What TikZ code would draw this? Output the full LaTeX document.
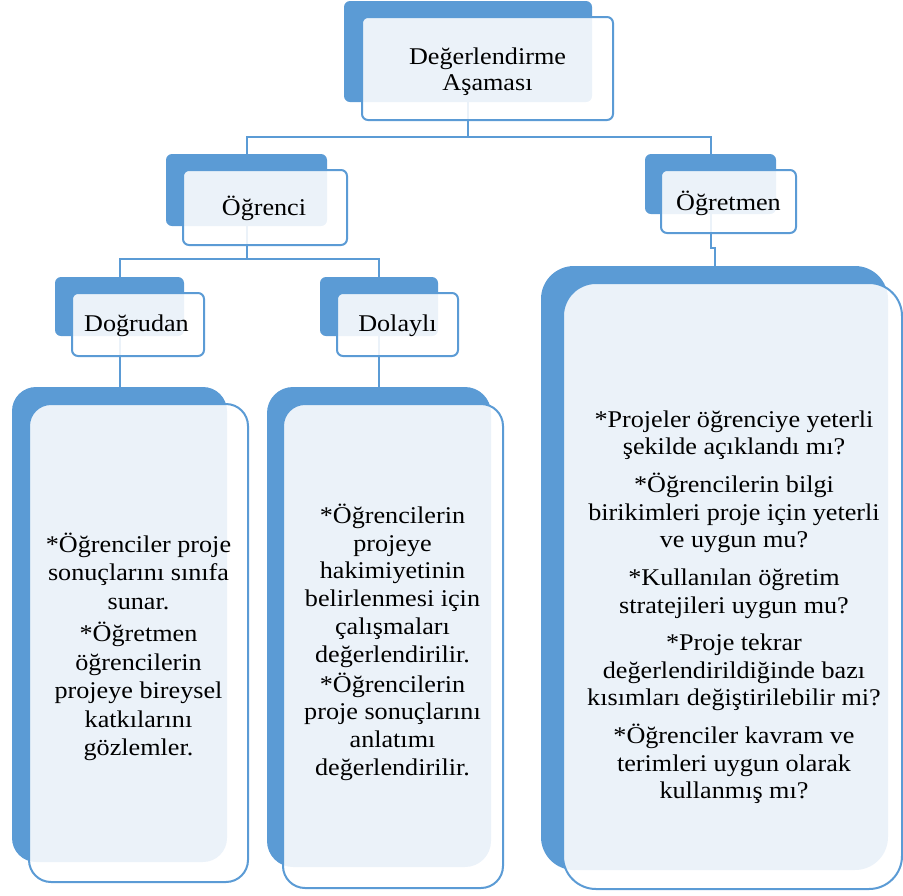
\documentclass[tikz,border=0pt]{standalone}
\usepackage{fontspec}
\setmainfont{Liberation Serif}[FakeStretch=1.09]
\definecolor{sablue}{RGB}{91,155,213}
\begin{document}
\begin{tikzpicture}[x=1pt,y=-1pt,
  back/.style={fill=sablue, draw=none, rounded corners=#1, inner sep=0pt, outer sep=0pt},
  back/.default=6pt,
  front/.style={draw=sablue, line width=2pt, fill=white, fill opacity=0.88, rounded corners=#1, inner sep=0pt, outer sep=0pt},
  front/.default=6pt,
  conn/.style={draw=sablue, line width=2pt},
  lbl/.style={font=\fontsize{24}{26}\selectfont, inner sep=0pt, anchor=base, align=center},
  bodytxt/.style={font=\fontsize{24}{#1}\selectfont, inner sep=0pt, anchor=north, align=center},
]
\useasboundingbox (0,0) rectangle (903,895);

% back boxes
\node[back, minimum width=248pt, minimum height=101pt] (b0) at (468,51.5) {};
\node[back, minimum width=161pt, minimum height=72pt] (b1) at (246.5,190) {};
\node[back, minimum width=131pt, minimum height=60pt] (b2) at (710.5,184) {};
\node[back, minimum width=129pt, minimum height=59pt] (b3) at (119.5,306.5) {};
\node[back, minimum width=118pt, minimum height=59pt] (b4) at (379,306.5) {};
\node[back=24pt, minimum width=215pt, minimum height=475pt] (bL) at (119.5,624.5) {};
\node[back=26pt, minimum width=224pt, minimum height=480pt] (bM) at (379,627) {};
\node[back=33pt, minimum width=347pt, minimum height=604pt] (bR) at (714.5,568) {};

% connectors
\coordinate (j0) at (468,137);
\coordinate (j1) at (246.5,259);
\coordinate (j2) at (710.5,248);
\draw[conn] (b0.south) -- (j0);
\draw[conn] (b1.north) |- (j0) -| (b2.north);
\draw[conn] (b1.south) -- (j1);
\draw[conn] (b3.north) |- (j1) -| (b4.north);
\draw[conn] (b3.south) -- (bL.north);
\draw[conn] (b4.south) -- (bM.north);
\draw[conn] (b2.south) -- (j2) -| (bR.north);

% front boxes
\node[front, minimum width=251pt, minimum height=103pt] (f0) at (487.5,68.5) {};
\node[front, minimum width=164pt, minimum height=75pt] (f1) at (265,207.5) {};
\node[front, minimum width=135pt, minimum height=63pt] (f2) at (728.5,201.5) {};
\node[front, minimum width=132pt, minimum height=63pt] (f3) at (138,324.5) {};
\node[front, minimum width=121pt, minimum height=63pt] (f4) at (397.5,324.5) {};
\node[front=22pt, minimum width=219pt, minimum height=478pt] (fL) at (138.5,643) {};
\node[front=22pt, minimum width=220pt, minimum height=484pt] (fM) at (393,646) {};
\node[front=33pt, minimum width=339pt, minimum height=606pt] (fR) at (732.5,586) {};

% labels
\node[bodytxt=26pt] (t0) at (487.5,40) {\rule{0pt}{24pt}Değerlendirme\\Aşaması};
\node[lbl] (t1) at (264,215) {Öğrenci};
\node[lbl] (t2) at (728.5,210) {Öğretmen};
\node[lbl] (t3) at (136.5,331.7) {Doğrudan};
\node[lbl] (t4) at (397.5,331.7) {Dolaylı};

\node[bodytxt=28.6pt] (tL) at (138.5,528) {\rule{0pt}{24pt}*Öğrenciler proje\\sonuçlarını sınıfa\\sunar.\\[3.5pt]{}*Öğretmen\\öğrencilerin\\projeye bireysel\\katkılarını\\gözlemler.};
\node[bodytxt=27.8pt] (tM) at (392.5,499) {\rule{0pt}{24pt}*Öğrencilerin\\projeye\\hakimiyetinin\\belirlenmesi için\\çalışmaları\\değerlendirilir.\\[2pt]{}*Öğrencilerin\\proje sonuçlarını\\anlatımı\\değerlendirilir.};
\node[bodytxt=27.7pt] (tR) at (734,403) {\rule{0pt}{24pt}*Projeler öğrenciye yeterli\\şekilde açıklandı mı?\\[9.8pt]{}*Öğrencilerin bilgi\\birikimleri proje için yeterli\\ve uygun mu?\\[9.8pt]{}*Kullanılan öğretim\\stratejileri uygun mu?\\[9.8pt]{}*Proje tekrar\\değerlendirildiğinde bazı\\kısımları değiştirilebilir mi?\\[9.8pt]{}*Öğrenciler kavram ve\\terimleri uygun olarak\\kullanmış mı?};
\end{tikzpicture}
\end{document}
